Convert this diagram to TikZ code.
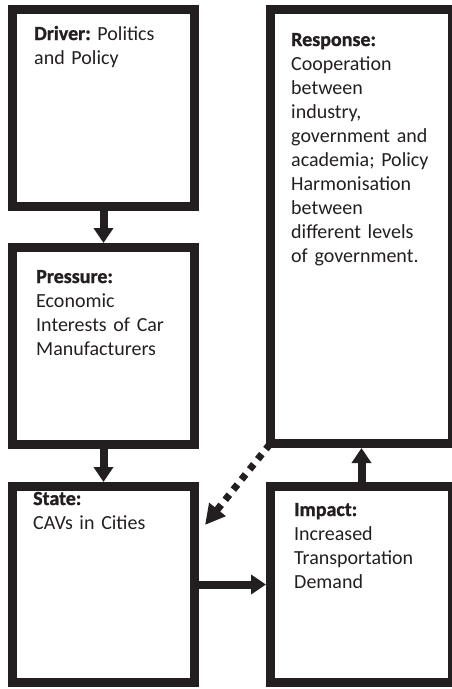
\documentclass[tikz,border=0pt]{standalone}
\usepackage{fontspec}
\setmainfont{Carlito}[BoldFeatures={FakeBold=1.2}]
\usetikzlibrary{arrows.meta}
\definecolor{ink}{HTML}{231F20}
\frenchspacing
\begin{document}
\begin{tikzpicture}[x=1pt,y=-1pt,
  box/.style={draw=ink, line width=9pt, minimum width=182pt, inner sep=0pt},
  txt/.style={anchor=base west, inner sep=0pt, align=left, text width=170pt,
    font=\fontsize{20pt}{24pt}\selectfont, text=ink},
  flow/.style={draw=ink, line width=8pt, -{Triangle[length=15pt,width=19pt]}},
  hint/.style={draw=ink, line width=7pt, dash pattern=on 6.5pt off 6.5pt,
    -{Triangle[length=20pt,width=20pt]}}]
\useasboundingbox (0,0) rectangle (452,689);

% DPSIR boxes
\node[box, minimum height=197pt] (driver)   at (103.5,108)   {};
\node[box, minimum height=197pt] (pressure) at (103.5,346)   {};
\node[box, minimum height=196pt] (state)    at (103.5,584.5) {};
\node[box, minimum height=434pt] (response) at (361.5,226.5) {};
\node[box, minimum height=196pt] (impact)   at (361.5,584.5) {};

% box texts
\node[txt] (drivertext)   at (34,40)  {\textbf{Driver:} Politics\\and Policy};
\node[txt] (pressuretext) at (36,283) {\textbf{Pressure:}\\Economic\\Interests of Car\\Manufacturers};
\node[txt] (statetext)    at (33,505) {\textbf{State:}\\CAVs in Cities};
\node[txt] (responsetext) at (291,46) {\textbf{Response:}\\Cooperation\\between\\industry,\\government and\\academia; Policy\\Harmonisation\\between\\different levels\\of government.};
\node[txt] (impacttext)   at (294,516) {\textbf{Impact:}\\Increased\\Transportation\\Demand};

% causal chain
\draw[flow] (driver) -- (pressure);
\draw[flow] (pressure) -- (state);
\draw[flow] (state) -- (impact);
\draw[flow] (impact) -- (response);

% feedback from response to state
\coordinate (hinttip) at (205,525);
\draw[hint] ([shift={(4,-4)}]response.south west) -- (hinttip);
\end{tikzpicture}
\end{document}
